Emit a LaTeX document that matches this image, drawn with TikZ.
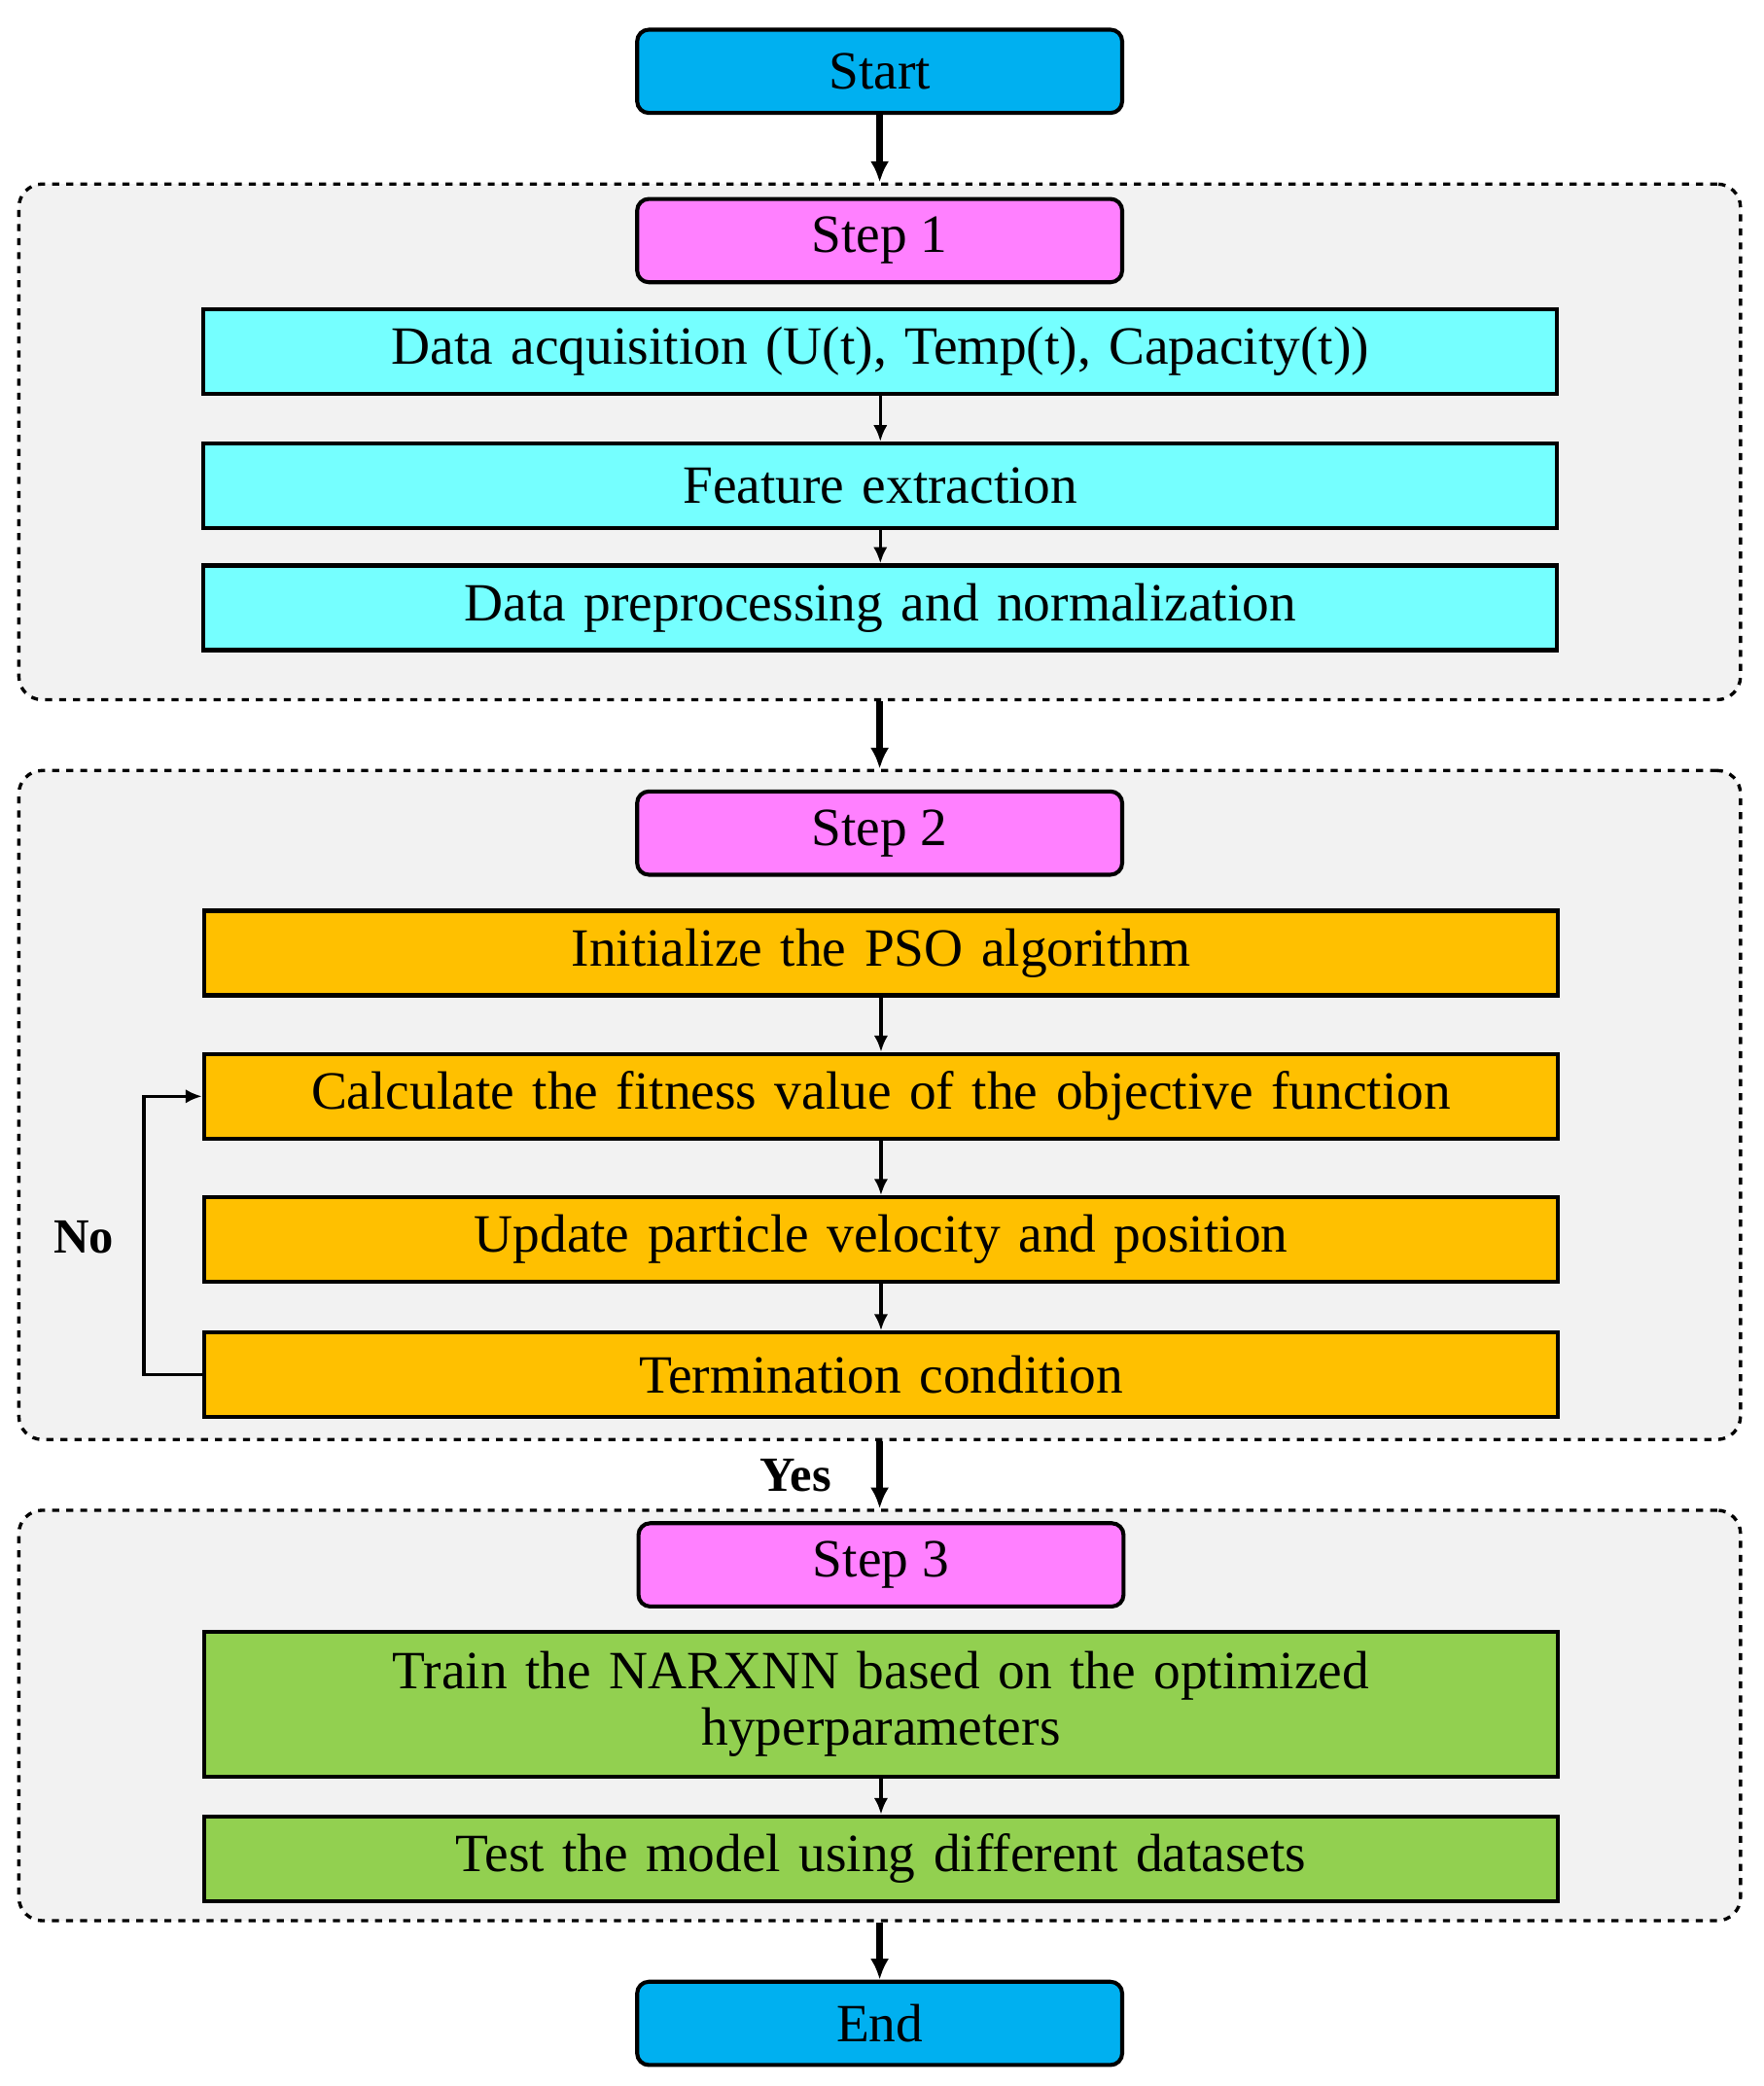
\documentclass[tikz,border=0pt]{standalone}
\usepackage{fontspec}
\setmainfont{Liberation Serif}
\usetikzlibrary{arrows.meta}
\definecolor{cstart}{HTML}{00B0F0}
\definecolor{cstep}{HTML}{FF80FF}
\definecolor{caqua}{HTML}{75FFFF}
\definecolor{corange}{HTML}{FFC000}
\definecolor{cgreen}{HTML}{92D050}
\definecolor{cpanel}{HTML}{F2F2F2}
\begin{document}
\begin{tikzpicture}[x=0.02cm,y=-0.02cm,
  box/.style={draw=black,line width=1.7pt,inner sep=0pt,align=center,font=\fontsize{23}{26}\selectfont},
  wide/.style={box,minimum width=20.32cm,minimum height=1.27cm,text width=19.5cm},
  stepb/.style={box,rounded corners=5pt,minimum width=7.28cm,minimum height=1.25cm,fill=cstep},
  term/.style={box,rounded corners=5pt,minimum width=7.28cm,minimum height=1.25cm,fill=cstart},
  panel/.style={draw=black,dashed,line width=1.4pt,rounded corners=10pt,fill=cpanel,inner sep=0pt,minimum width=25.84cm},
  thin/.style={-{Latex[length=7pt,width=6pt]},line width=1.4pt},
  thick/.style={-{Latex[length=9pt,width=8pt]},line width=2.6pt}]
\useasboundingbox (0,0) rectangle (1323,1565);
\node[panel,minimum height=7.74cm] (p1) at (660,331.5) {};
\node[panel,minimum height=10.04cm] (p2) at (660,829) {};
\node[panel,minimum height=6.16cm] (p3) at (660,1287) {};
\node[term] (start) at (660,53.5) {Start};
\node[stepb] (s1) at (660,180.5) {Step 1};
\node[wide,fill=caqua] (a1) at (660.5,263.5) {Data acquisition (U(t), Temp(t), Capacity(t))};
\node[wide,fill=caqua] (a2) at (660.5,364.5) {Feature extraction};
\node[wide,fill=caqua] (a3) at (660.5,456) {Data preprocessing and normalization};
\node[stepb] (s2) at (660,625) {Step 2};
\node[wide,fill=corange] (b1) at (661,715) {Initialize the PSO algorithm};
\node[wide,fill=corange] (b2) at (661,822.5) {Calculate the fitness value of the objective function};
\node[wide,fill=corange] (b3) at (661,930) {Update particle velocity and position};
\node[wide,fill=corange] (b4) at (661,1031.5) {Termination condition};
\node[stepb] (s3) at (661,1174) {Step 3};
\node[wide,fill=cgreen,minimum height=2.18cm] (c1) at (661,1278.5) {Train the NARXNN based on the optimized\\[-2pt] hyperparameters};
\node[wide,fill=cgreen] (c2) at (661,1394.5) {Test the model using different datasets};
\node[term] (end) at (660,1518) {End};
\draw[thick] (start) -- (p1.north);
\draw[thick] (p1) -- (p2.north);
\draw[thick] (p2) -- (p3.north);
\draw[thick] (p3) -- (end);
\draw[thin] (a1) -- (a2);
\draw[thin] (a2) -- (a3);
\draw[thin] (b1) -- (b2);
\draw[thin] (b2) -- (b3);
\draw[thin] (b3) -- (b4);
\draw[thin] (c1) -- (c2);
\coordinate (lb) at (108,1031.5);
\coordinate (lt) at (108,822.5);
\draw[thin] (b4.west) -- (lb) -- (lt) -- (b2.west);
\node[font=\fontsize{21}{24}\selectfont\bfseries] (no) at (63,928) {No};
\node[font=\fontsize{21}{24}\selectfont\bfseries] (yes) at (597,1107) {Yes};
\end{tikzpicture}
\end{document}
